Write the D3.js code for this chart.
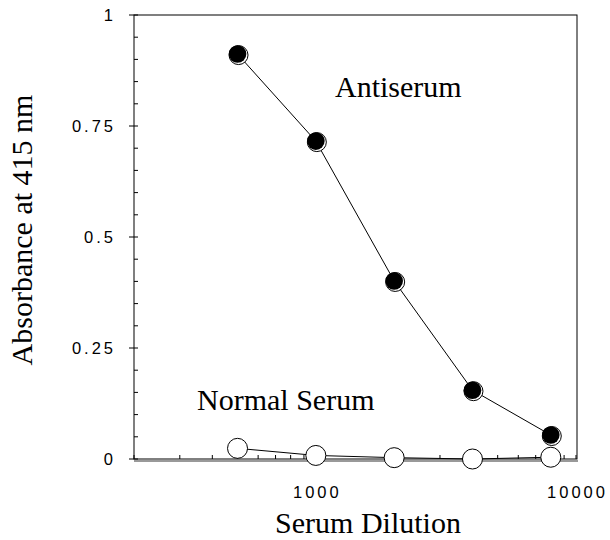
<!DOCTYPE html>
<html>
<head>
<meta charset="utf-8">
<script src="https://cdn.jsdelivr.net/npm/d3@7"></script>
<style>
  body { margin: 0; background: #fff; }
  .tick-label { font-family: "Liberation Sans", Arial, sans-serif; font-size: 16.5px; letter-spacing: 3px; }
  .serif { font-family: "Liberation Serif", "Times New Roman", serif; font-size: 30px; }
</style>
</head>
<body>
<svg id="chart" width="610" height="540"></svg>
<script>
const dilutions = [500, 1000, 2000, 4000, 8000];
const antiserum = [0.912, 0.716, 0.401, 0.155, 0.054];
const normalSerum = [0.024, 0.008, 0.003, 0.0, 0.004];
const yTicks = [0, 0.25, 0.5, 0.75, 1];
const xTicks = [1000, 10000];

drawChart();

function drawChart() {
    const svg = d3.select("#chart");

    const x = d3.scaleLog()
        .domain([200, 10000])
        .range([134, 576]);

    const y = d3.scaleLinear()
        .domain([0, 1])
        .range([459, 15]);

    // frame
    svg.append("rect")
        .attr("x", 134).attr("y", 15)
        .attr("width", 577 - 134).attr("height", 459 - 15)
        .attr("fill", "none")
        .attr("stroke", "#000")
        .attr("stroke-width", 1);

    // grey double line under x axis
    svg.append("line")
        .attr("x1", 134).attr("x2", 578)
        .attr("y1", 461).attr("y2", 461)
        .attr("stroke", "#999").attr("stroke-width", 2);

    // y axis: labels + small ticks
    const yMinor = d3.range(0, 1.0001, 0.05);
    svg.append("g").selectAll("line")
        .data(yMinor)
        .join("line")
        .attr("x1", d => yTicks.some(t => Math.abs(t - d) < 1e-6) ? 129 : 134)
        .attr("x2", 138)
        .attr("y1", d => y(d)).attr("y2", d => y(d))
        .attr("stroke", "#000");

    svg.append("g").selectAll("text")
        .data(yTicks)
        .join("text")
        .attr("class", "tick-label")
        .attr("x", 116)
        .attr("y", d => y(d) + 6)
        .attr("text-anchor", "end")
        .text(d => d);

    // x axis: log minor ticks inside
    const xMinor = x.ticks().filter(d => d >= 200 && d <= 10000);
    svg.append("g").selectAll("line")
        .data(xMinor)
        .join("line")
        .attr("x1", d => x(d)).attr("x2", d => x(d))
        .attr("y1", 459).attr("y2", 455)
        .attr("stroke", "#000");

    svg.append("g").selectAll("text")
        .data(xTicks)
        .join("text")
        .attr("class", "tick-label")
        .attr("x", d => x(d) + 1.5)
        .attr("y", 498)
        .attr("text-anchor", "middle")
        .text(d => d);

    // axis titles
    svg.append("text")
        .attr("class", "serif")
        .attr("x", 368).attr("y", 533)
        .attr("text-anchor", "middle")
        .text("Serum Dilution");

    svg.append("text")
        .attr("class", "serif")
        .attr("transform", "translate(32,230) rotate(-90)")
        .attr("text-anchor", "middle")
        .text("Absorbance at 415 nm");

    const line = d3.line()
        .x(d => x(d[0]))
        .y(d => y(d[1]));

    const anti = dilutions.map((d, i) => [d, antiserum[i]]);
    const norm = dilutions.map((d, i) => [d, normalSerum[i]]);

    svg.append("path").datum(norm).attr("d", line)
        .attr("fill", "none").attr("stroke", "#000").attr("stroke-width", 1);
    svg.append("path").datum(anti).attr("d", line)
        .attr("fill", "none").attr("stroke", "#000").attr("stroke-width", 1);

    // open circles
    svg.append("g").selectAll("circle")
        .data(norm)
        .join("circle")
        .attr("cx", d => x(d[0])).attr("cy", d => y(d[1]))
        .attr("r", 10)
        .attr("fill", "#fff")
        .attr("stroke", "#000");

    // filled circles with offset ring
    const g = svg.append("g");
    g.selectAll("circle.shadow")
        .data(anti)
        .join("circle")
        .attr("class", "shadow")
        .attr("cx", d => x(d[0]) + 1).attr("cy", d => y(d[1]) + 1)
        .attr("r", 9.5)
        .attr("fill", "#fff")
        .attr("stroke", "#000");
    g.selectAll("circle.dot")
        .data(anti)
        .join("circle")
        .attr("class", "dot")
        .attr("cx", d => x(d[0])).attr("cy", d => y(d[1]))
        .attr("r", 8.8)
        .attr("fill", "#000");

    // series labels
    svg.append("text")
        .attr("class", "serif")
        .attr("x", 335).attr("y", 97)
        .text("Antiserum");

    svg.append("text")
        .attr("class", "serif")
        .attr("x", 197).attr("y", 410)
        .text("Normal Serum");
}
</script>
</body>
</html>
